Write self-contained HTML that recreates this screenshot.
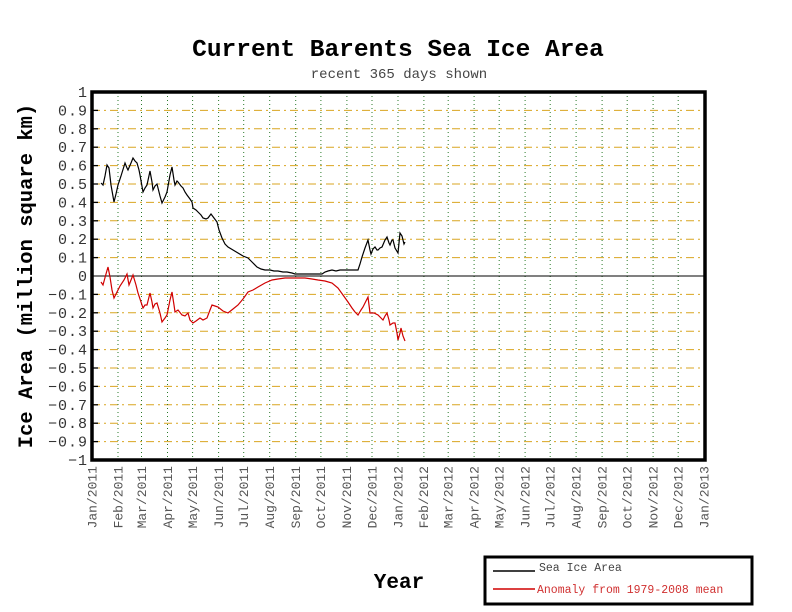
<!DOCTYPE html>
<html><head><meta charset="utf-8"><style>
html,body{margin:0;padding:0;background:#fff;}
svg{display:block;font-family:"Liberation Mono",monospace;}
</style></head><body>
<svg width="792" height="612" viewBox="0 0 792 612" xmlns="http://www.w3.org/2000/svg">
<rect width="792" height="612" fill="#fff"/>
<text x="398" y="56" font-size="24.5" font-weight="bold" text-anchor="middle" fill="#000">Current Barents Sea Ice Area</text>
<text x="399" y="78" font-size="14" text-anchor="middle" fill="#444">recent 365 days shown</text>
<text transform="translate(32,276) rotate(-90)" font-size="20.5" font-weight="bold" text-anchor="middle" fill="#000">Ice Area (million square km)</text>
<text x="399" y="588" font-size="21" font-weight="bold" text-anchor="middle" fill="#000">Year</text>
<g stroke="#d9a520" stroke-width="1" stroke-dasharray="8,4,2,4">
<line x1="92" x2="705" y1="110.4" y2="110.4"/><line x1="92" x2="705" y1="128.8" y2="128.8"/><line x1="92" x2="705" y1="147.2" y2="147.2"/><line x1="92" x2="705" y1="165.6" y2="165.6"/><line x1="92" x2="705" y1="184" y2="184"/><line x1="92" x2="705" y1="202.4" y2="202.4"/><line x1="92" x2="705" y1="220.8" y2="220.8"/><line x1="92" x2="705" y1="239.2" y2="239.2"/><line x1="92" x2="705" y1="257.6" y2="257.6"/><line x1="92" x2="705" y1="294.4" y2="294.4"/><line x1="92" x2="705" y1="312.8" y2="312.8"/><line x1="92" x2="705" y1="331.2" y2="331.2"/><line x1="92" x2="705" y1="349.6" y2="349.6"/><line x1="92" x2="705" y1="368" y2="368"/><line x1="92" x2="705" y1="386.4" y2="386.4"/><line x1="92" x2="705" y1="404.8" y2="404.8"/><line x1="92" x2="705" y1="423.2" y2="423.2"/><line x1="92" x2="705" y1="441.6" y2="441.6"/>
</g>
<g stroke="#2a7a2a" stroke-width="1" stroke-dasharray="1,3">
<line x1="118" x2="118" y1="92" y2="460"/><line x1="141.5" x2="141.5" y1="92" y2="460"/><line x1="167.5" x2="167.5" y1="92" y2="460"/><line x1="192.6" x2="192.6" y1="92" y2="460"/><line x1="218.6" x2="218.6" y1="92" y2="460"/><line x1="243.7" x2="243.7" y1="92" y2="460"/><line x1="269.7" x2="269.7" y1="92" y2="460"/><line x1="295.7" x2="295.7" y1="92" y2="460"/><line x1="320.9" x2="320.9" y1="92" y2="460"/><line x1="346.9" x2="346.9" y1="92" y2="460"/><line x1="372" x2="372" y1="92" y2="460"/><line x1="398" x2="398" y1="92" y2="460"/><line x1="423.9" x2="423.9" y1="92" y2="460"/><line x1="448.2" x2="448.2" y1="92" y2="460"/><line x1="474.1" x2="474.1" y1="92" y2="460"/><line x1="499.2" x2="499.2" y1="92" y2="460"/><line x1="525.1" x2="525.1" y1="92" y2="460"/><line x1="550.2" x2="550.2" y1="92" y2="460"/><line x1="576.1" x2="576.1" y1="92" y2="460"/><line x1="602.1" x2="602.1" y1="92" y2="460"/><line x1="627.2" x2="627.2" y1="92" y2="460"/><line x1="653.1" x2="653.1" y1="92" y2="460"/><line x1="678.2" x2="678.2" y1="92" y2="460"/>
</g>
<line x1="92" x2="705" y1="276" y2="276" stroke="#000" stroke-width="1"/>
<g stroke="#000" stroke-width="1.3">
<line x1="92" x2="98" y1="110.4" y2="110.4"/><line x1="92" x2="98" y1="128.8" y2="128.8"/><line x1="92" x2="98" y1="147.2" y2="147.2"/><line x1="92" x2="98" y1="165.6" y2="165.6"/><line x1="92" x2="98" y1="184" y2="184"/><line x1="92" x2="98" y1="202.4" y2="202.4"/><line x1="92" x2="98" y1="220.8" y2="220.8"/><line x1="92" x2="98" y1="239.2" y2="239.2"/><line x1="92" x2="98" y1="257.6" y2="257.6"/><line x1="92" x2="98" y1="294.4" y2="294.4"/><line x1="92" x2="98" y1="312.8" y2="312.8"/><line x1="92" x2="98" y1="331.2" y2="331.2"/><line x1="92" x2="98" y1="349.6" y2="349.6"/><line x1="92" x2="98" y1="368" y2="368"/><line x1="92" x2="98" y1="386.4" y2="386.4"/><line x1="92" x2="98" y1="404.8" y2="404.8"/><line x1="92" x2="98" y1="423.2" y2="423.2"/><line x1="92" x2="98" y1="441.6" y2="441.6"/>
</g>
<polyline fill="none" stroke="#000" stroke-width="1.2" points="101,183 103,185 105,176 107,165 109,168 111,185 114,202 116,194 118,185 121,176 125,163 127,168 128,170 131,163 133,158 135,161 137,163 139,170 140,175 143,192 145,188 147,185 150,171 152,182 153,190 155,186 157,184 160,196 162,203 165,197 167,192 170,175 172,167 174,180 175,185 177,181 178,182 181,186 183,188 185,192 187,195 190,199 192,202 193,208 196,210 198,212 201,215 203,218 206,219 208,218 211,214 214,218 217,222 219,230 222,238 225,244 228,247 233,250 238,253 243,256 248,258 252,262 257,267 261,269 265,270 270,270 274,271 278,271 283,272 287,272 292,273 295,274 298,274 305,274 312,274 322,274 325,272 328,271 332,270 336,271 340,270 345,270 350,270 355,270 358,270 360,264 362,257 365,248 368,240 370,250 371,254 373,249 375,247 377,250 378,250 380,248 382,247 385,240 387,237 389,243 390,245 392,240 393,240 395,248 398,253 399,243 400,233 402,236 404,244 405,242"/>
<polyline fill="none" stroke="#d00000" stroke-width="1.2" points="101,282 103,285 106,274 108,267 110,277 112,290 114,298 116,294 117,292 120,286 124,280 127,274 129,285 131,280 133,275 136,285 138,293 141,302 143,308 145,305 147,305 149,297 150,293 152,302 153,308 155,304 157,303 160,313 162,322 165,318 167,315 170,300 172,292 174,305 175,312 178,310 182,315 185,316 188,313 190,320 193,323 196,321 200,318 203,320 207,318 210,310 212,305 215,306 218,307 223,311 228,313 233,309 238,305 243,299 248,292 253,290 258,287 265,283 272,280 278,279 285,278 292,278 298,278 305,278 312,279 318,280 325,281 332,283 338,288 343,295 348,302 352,308 355,312 358,315 361,310 363,307 366,301 368,297 369,305 370,313 374,313 378,315 381,318 383,320 385,316 387,313 389,320 390,325 393,323 395,323 397,333 398,340 400,333 401,328 403,336 405,341"/>
<rect x="92" y="92" width="613" height="368" fill="none" stroke="#000" stroke-width="3.5"/>
<g font-size="15" fill="#333" text-anchor="end" letter-spacing="1">
<text x="88" y="97">1</text><text x="88" y="115.4">0.9</text><text x="88" y="133.8">0.8</text><text x="88" y="152.2">0.7</text><text x="88" y="170.6">0.6</text><text x="88" y="189">0.5</text><text x="88" y="207.4">0.4</text><text x="88" y="225.8">0.3</text><text x="88" y="244.2">0.2</text><text x="88" y="262.6">0.1</text><text x="88" y="281">0</text><text x="88" y="299.4">−0.1</text><text x="88" y="317.8">−0.2</text><text x="88" y="336.2">−0.3</text><text x="88" y="354.6">−0.4</text><text x="88" y="373">−0.5</text><text x="88" y="391.4">−0.6</text><text x="88" y="409.8">−0.7</text><text x="88" y="428.2">−0.8</text><text x="88" y="446.6">−0.9</text><text x="88" y="465">−1</text>
</g>
<g font-size="13" fill="#555" text-anchor="end">
<text transform="translate(96.5,466) rotate(-90)">Jan/2011</text>
<text transform="translate(122.5,466) rotate(-90)">Feb/2011</text>
<text transform="translate(146,466) rotate(-90)">Mar/2011</text>
<text transform="translate(172,466) rotate(-90)">Apr/2011</text>
<text transform="translate(197,466) rotate(-90)">May/2011</text>
<text transform="translate(223,466) rotate(-90)">Jun/2011</text>
<text transform="translate(248,466) rotate(-90)">Jul/2011</text>
<text transform="translate(274,466) rotate(-90)">Aug/2011</text>
<text transform="translate(300,466) rotate(-90)">Sep/2011</text>
<text transform="translate(325,466) rotate(-90)">Oct/2011</text>
<text transform="translate(351,466) rotate(-90)">Nov/2011</text>
<text transform="translate(376.5,466) rotate(-90)">Dec/2011</text>
<text transform="translate(402.5,466) rotate(-90)">Jan/2012</text>
<text transform="translate(428,466) rotate(-90)">Feb/2012</text>
<text transform="translate(452.5,466) rotate(-90)">Mar/2012</text>
<text transform="translate(478.5,466) rotate(-90)">Apr/2012</text>
<text transform="translate(503.5,466) rotate(-90)">May/2012</text>
<text transform="translate(529.5,466) rotate(-90)">Jun/2012</text>
<text transform="translate(554.5,466) rotate(-90)">Jul/2012</text>
<text transform="translate(580.5,466) rotate(-90)">Aug/2012</text>
<text transform="translate(606.5,466) rotate(-90)">Sep/2012</text>
<text transform="translate(631.5,466) rotate(-90)">Oct/2012</text>
<text transform="translate(657.5,466) rotate(-90)">Nov/2012</text>
<text transform="translate(682.5,466) rotate(-90)">Dec/2012</text>
<text transform="translate(708.5,466) rotate(-90)">Jan/2013</text>
</g>
<rect x="485" y="557" width="267" height="47" fill="#fff" stroke="#000" stroke-width="3"/>
<line x1="493" x2="535" y1="571" y2="571" stroke="#000" stroke-width="1.5"/>
<line x1="493" x2="535" y1="589" y2="589" stroke="#d00000" stroke-width="1.5"/>
<text x="539" y="571" font-size="11.5" fill="#444">Sea Ice Area</text>
<text x="537" y="593" font-size="11.5" fill="#d03030">Anomaly from 1979-2008 mean</text>
</svg>
</body></html>
